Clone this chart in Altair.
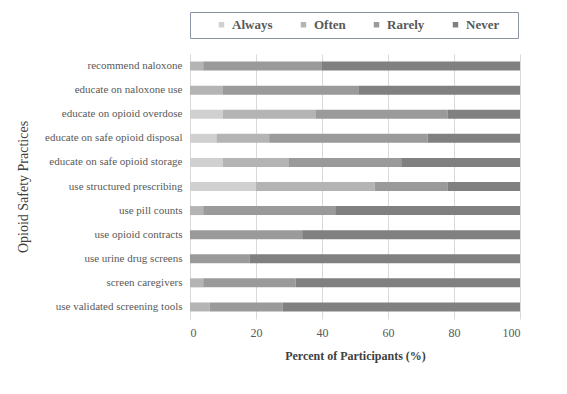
import altair as alt
import pandas as pd

practices = [
    "recommend naloxone",
    "educate on naloxone use",
    "educate on opioid overdose",
    "educate on safe opioid disposal",
    "educate on safe opioid storage",
    "use structured prescribing",
    "use pill counts",
    "use opioid contracts",
    "use urine drug screens",
    "screen caregivers",
    "use validated screening tools",
]
categories = ["Always", "Often", "Rarely", "Never"]
always = [0, 0, 10, 8, 10, 20, 0, 0, 0, 0, 0]
often = [4, 10, 28, 16, 20, 36, 4, 0, 0, 4, 6]
rarely = [36, 41, 40, 48, 34, 22, 40, 34, 18, 28, 22]
never = [60, 49, 22, 28, 36, 22, 56, 66, 82, 68, 72]
colors = ["#d0d0d0", "#b4b4b4", "#9a9a9a", "#808080"]

rows = []
for i, p in enumerate(practices):
    for k, (cat, vals) in enumerate(zip(categories, [always, often, rarely, never])):
        rows.append({"practice": p, "freq": cat, "order": k, "value": vals[i]})
df = pd.DataFrame(rows)

FONT = "Liberation Serif"

chart = alt.Chart(df).mark_bar(size=9).encode(
    x=alt.X("value:Q", stack="zero",
            scale=alt.Scale(domain=[0, 100], nice=False),
            axis=alt.Axis(title="Percent of Participants (%)", values=[0, 20, 40, 60, 80, 100],
                          grid=True, gridColor="#d9d9d9", domain=False, ticks=False,
                          labelPadding=8, titlePadding=12, labelFontSize=12,
                          titleFontSize=12, titleFontWeight="bold")),
    y=alt.Y("practice:N", sort=practices,
            scale=alt.Scale(paddingInner=0.6, paddingOuter=0.3),
            axis=alt.Axis(title="Opioid Safety Practices", ticks=False, domain=True,
                          domainColor="#d9d9d9", labelPadding=8, labelFontSize=11,
                          titleFontSize=14, titleFontWeight="normal", titlePadding=14,
                          labelLimit=300)),
    color=alt.Color("freq:N", sort=categories,
                    scale=alt.Scale(domain=categories, range=colors),
                    legend=alt.Legend(title="\u00a0", titleOrient="right", titlePadding=13,
                                      titleFontSize=11,
                                      orient="top", direction="horizontal",
                                      symbolType="square", symbolSize=30,
                                      labelFontSize=13, labelFontWeight="bold",
                                      columnPadding=5, padding=6, strokeColor="#8c93a5",
                                      symbolOffset=19, labelOffset=4,
                                      symbolStrokeWidth=0, offset=16, labelColor="#595959")),
    order=alt.Order("order:Q"),
).properties(width=330, height=265, padding={"left": 8, "top": 3, "right": 5, "bottom": 5}).configure(
    font=FONT,
).configure_view(stroke=None).configure_axis(
    labelColor="#595959", titleColor="#404040", labelFont=FONT, titleFont=FONT,
).configure_legend(labelFont=FONT)

chart.save("out.html", embed_options={"renderer": "svg", "actions": False})
